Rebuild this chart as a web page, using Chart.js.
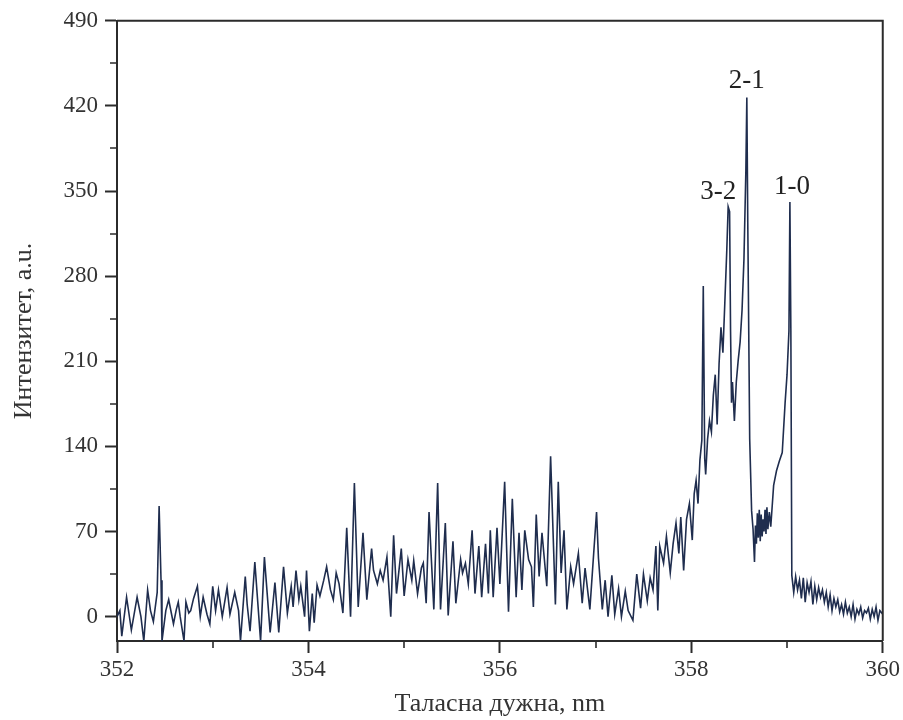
<!DOCTYPE html>
<html>
<head>
<meta charset="utf-8">
<script src="https://cdn.jsdelivr.net/npm/chart.js@4/dist/chart.umd.min.js"></script>
<style>
  html, body { margin: 0; padding: 0; background: #ffffff; }
  #wrap { width: 903px; height: 720px; }
</style>
</head>
<body>
<div id="wrap"><canvas id="c" width="903" height="720"></canvas></div>
<script>
// Emission spectrum, wavelength in nm
const wavelength = [
  352.00,352.03,352.05,352.10,352.15,352.21,352.25,352.28,352.32,352.35,352.38,352.42,352.44,352.46,352.47,
  352.51,352.54,352.57,352.59,352.62,352.64,352.66,352.70,352.72,352.75,352.77,352.80,352.84,352.87,352.90,
  352.94,352.97,353.00,353.03,353.06,353.10,353.15,353.18,353.23,353.27,353.29,353.34,353.36,353.39,353.44,
  353.50,353.54,353.60,353.65,353.69,353.74,353.78,353.82,353.84,353.87,353.90,353.92,353.96,353.98,354.01,
  354.04,354.06,354.09,354.12,354.16,354.19,354.23,354.26,354.29,354.32,354.36,354.40,354.44,354.48,354.52,
  354.57,354.61,354.66,354.68,354.72,354.75,354.78,354.82,354.86,354.89,354.92,354.97,355.00,355.04,355.08,
  355.10,355.14,355.18,355.20,355.23,355.26,355.31,355.35,355.38,355.43,355.46,355.51,355.54,355.59,355.61,
  355.64,355.67,355.71,355.74,355.78,355.81,355.85,355.88,355.90,355.93,355.97,356.00,356.05,356.09,356.13,
  356.17,356.20,356.23,356.26,356.30,356.33,356.35,356.38,356.41,356.44,356.49,356.53,356.58,356.61,356.64,
  356.67,356.70,356.74,356.77,356.82,356.86,356.89,356.94,356.98,357.01,357.03,357.07,357.10,357.13,357.17,
  357.20,357.24,357.27,357.31,357.34,357.39,357.43,357.47,357.50,357.54,357.57,357.60,357.63,357.65,357.67,
  357.71,357.74,357.78,357.81,357.84,357.87,357.89,357.92,357.95,357.98,358.01,358.03,358.05,358.07,358.09,
  358.11,358.125,358.14,358.15,358.17,358.19,358.21,358.23,358.25,358.27,358.29,358.31,358.33,358.35,358.37,
  358.385,358.40,358.41,358.42,358.43,358.45,358.47,358.49,358.51,358.53,358.55,358.57,358.58,358.59,358.61,
  358.63,358.645,358.66,358.67,358.68,358.69,358.70,358.71,358.72,358.73,358.74,358.75,358.76,358.77,358.78,
  358.79,358.80,358.815,358.83,358.86,358.89,358.92,358.95,358.98,359.00,359.02,359.03,359.04,359.05,359.07,
  359.09,359.11,359.13,359.15,359.17,359.19,359.21,359.23,359.25,359.27,359.29,359.31,359.33,359.35,359.37,
  359.39,359.41,359.43,359.45,359.47,359.49,359.51,359.53,359.55,359.57,359.59,359.61,359.63,359.65,359.67,
  359.69,359.71,359.73,359.75,359.77,359.79,359.81,359.83,359.85,359.87,359.89,359.91,359.93,359.95,359.97,
  360.00
];

// Intensity, a.u.
const intensity = [
  0,5,-16,16,-11,16,0,-20,22,5,-4,20,91,30,-20,
  5,14,2,-6,6,12,0,-20,12,3,5,15,25,0,16,
  2,-6,25,5,22,0,24,2,20,5,-20,33,10,-12,45,
  -20,49,-13,28,-13,41,3,25,8,38,14,25,0,38,-12,
  19,-5,26,17,30,41,22,14,36,27,3,73,0,110,8,
  69,14,56,38,27,38,30,49,0,67,19,56,17,47,30,
  46,19,40,44,11,86,6,110,6,77,1,62,11,47,36,
  44,27,71,19,58,16,60,19,71,16,73,27,111,4,97,
  16,69,22,71,47,41,8,84,33,69,25,132,10,111,36,
  71,6,41,27,52,11,40,6,52,86,48,6,30,0,34,
  2,23,0,21,5,-3,35,7,35,13,32,22,58,5,58,
  44,66,36,60,77,52,82,38,80,93,63,101,112,93,129,
  145,272,130,117,146,161,152,182,199,158,208,238,217,258,300,
  337,333,235,176,193,161,193,211,226,252,294,367,427,323,146,
  87,72,45,75,60,85,65,88,62,84,66,80,70,88,68,
  90,72,86,74,108,120,128,135,176,199,235,341,235,34,20,
  33,22,30,15,32,12,28,20,29,10,25,14,24,16,22,
  12,20,8,18,5,15,8,14,4,10,2,12,3,8,0,
  10,-2,6,2,8,-1,5,3,7,-2,6,0,8,-3,5,
  2
];

// Axis ticks
const xMajorTicks = [352, 354, 356, 358, 360];
const xMinorTicks = [353, 355, 357, 359];
const yMajorTicks = [0, 70, 140, 210, 280, 350, 420, 490];
const yMinorTicks = [35, 105, 175, 245, 315, 385, 455];

// Vibrational band labels
const bandLabels = ['3-2', '2-1', '1-0'];
const bandPeaks = [358.385, 358.58, 359.03];

const points = wavelength.map((w, i) => ({ x: w, y: intensity[i] }));

const AXIS = '#2b2b2b';
const TEXT = '#333333';
const SERIF = '"Liberation Serif", "Times New Roman", serif';

// Minor ticks, closed frame and band labels
const decorations = {
  id: 'decorations',
  afterDraw(chart) {
    const { ctx, chartArea: a, scales: { x, y } } = chart;
    ctx.save();
    ctx.strokeStyle = AXIS;
    ctx.lineWidth = 2;
    // frame top and right
    ctx.beginPath();
    ctx.moveTo(a.left, a.top);
    ctx.lineTo(a.right, a.top);
    ctx.lineTo(a.right, a.bottom);
    ctx.stroke();
    // minor ticks
    ctx.lineWidth = 1.6;
    ctx.beginPath();
    xMinorTicks.forEach(v => {
      const px = Math.round(x.getPixelForValue(v));
      ctx.moveTo(px, a.bottom);
      ctx.lineTo(px, a.bottom + 7);
    });
    yMinorTicks.forEach(v => {
      const py = Math.round(y.getPixelForValue(v));
      ctx.moveTo(a.left, py);
      ctx.lineTo(a.left - 7, py);
    });
    ctx.stroke();
    // band labels above their peaks
    ctx.fillStyle = '#222222';
    ctx.font = '27px ' + SERIF;
    ctx.textAlign = 'center';
    ctx.textBaseline = 'alphabetic';
    const dx = [-10, 0, 2];
    const dy = [8, 9, 8];
    bandLabels.forEach((label, i) => {
      const idx = wavelength.indexOf(bandPeaks[i]);
      const px = x.getPixelForValue(bandPeaks[i]);
      const py = y.getPixelForValue(intensity[idx]);
      ctx.fillText(label, px + dx[i], py - dy[i]);
    });
    ctx.restore();
  }
};

new Chart(document.getElementById('c'), {
  type: 'scatter',
  data: {
    datasets: [{
      data: points,
      showLine: true,
      borderColor: '#1f2d4e',
      borderWidth: 1.6,
      pointRadius: 0,
      pointHoverRadius: 0,
      tension: 0,
      fill: false
    }]
  },
  options: {
    responsive: false,
    devicePixelRatio: 1,
    animation: false,
    layout: { padding: { top: 20, right: 20, left: 0, bottom: 0 } },
    plugins: { legend: { display: false }, tooltip: { enabled: false } },
    scales: {
      x: {
        type: 'linear',
        min: 352,
        max: 360,
        afterBuildTicks: s => { s.ticks = xMajorTicks.map(v => ({ value: v })); },
        afterFit: s => { s.height = 79; },
        ticks: {
          font: { family: SERIF, size: 23 },
          color: TEXT,
          padding: 3,
          maxRotation: 0
        },
        grid: {
          drawOnChartArea: false,
          drawTicks: true,
          tickLength: 12,
          tickWidth: 2,
          tickColor: AXIS
        },
        border: { color: AXIS, width: 2 },
        title: {
          display: true,
          text: 'Таласна дужна, nm',
          font: { family: SERIF, size: 26 },
          color: TEXT,
          padding: { top: 0, bottom: 0 }
        }
      },
      y: {
        type: 'linear',
        min: -20,
        max: 490,
        afterBuildTicks: s => { s.ticks = yMajorTicks.map(v => ({ value: v })); },
        afterFit: s => { s.width = 117; },
        ticks: {
          font: { family: SERIF, size: 23 },
          color: TEXT,
          padding: 7
        },
        grid: {
          drawOnChartArea: false,
          drawTicks: true,
          tickLength: 12,
          tickWidth: 2,
          tickColor: AXIS
        },
        border: { color: AXIS, width: 2 },
        title: {
          display: true,
          text: 'Интензитет, a.u.',
          font: { family: SERIF, size: 26 },
          color: TEXT,
          padding: { top: 9, bottom: 0 }
        }
      }
    }
  },
  plugins: [decorations]
});
</script>
</body>
</html>
